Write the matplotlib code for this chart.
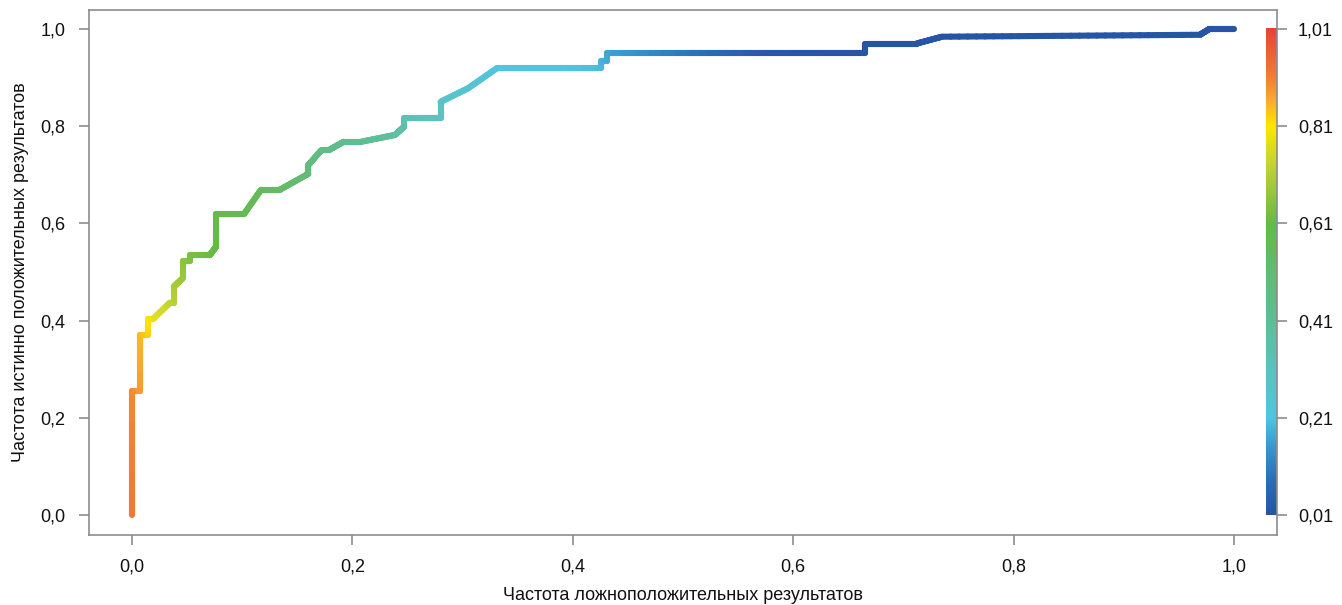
import numpy as np
import matplotlib
matplotlib.use("Agg")
import matplotlib.pyplot as plt
from matplotlib.collections import LineCollection
from matplotlib.colors import LinearSegmentedColormap, Normalize
from matplotlib.ticker import FuncFormatter

plt.rcParams['font.family'] = ['Liberation Sans', 'DejaVu Sans']

# ROC curve vertices (false positive rate, true positive rate) and cutoff at each vertex
fpr = [0.0, 0.0, 0.0073, 0.0073, 0.0148, 0.0148, 0.019, 0.0345, 0.038, 0.038,
       0.046, 0.046, 0.0526, 0.0526, 0.0708, 0.0762, 0.0762, 0.1016, 0.117, 0.134,
       0.160, 0.160, 0.172, 0.179, 0.192, 0.208, 0.2387, 0.247, 0.247, 0.280,
       0.280, 0.305, 0.331, 0.426, 0.426, 0.4307, 0.4307, 0.50, 0.58, 0.665,
       0.665, 0.712, 0.735, 0.969, 0.9777, 1.0]
tpr = [0.0, 0.256, 0.256, 0.370, 0.370, 0.403, 0.403, 0.437, 0.437, 0.470,
       0.487, 0.523, 0.523, 0.535, 0.535, 0.552, 0.619, 0.619, 0.669, 0.669,
       0.702, 0.720, 0.751, 0.751, 0.768, 0.768, 0.782, 0.799, 0.816, 0.816,
       0.850, 0.878, 0.919, 0.919, 0.935, 0.935, 0.950, 0.950, 0.950, 0.950,
       0.970, 0.970, 0.984, 0.988, 1.0, 1.0]
cutoff = [0.92, 0.90, 0.88, 0.85, 0.83, 0.81, 0.79, 0.73, 0.72, 0.70,
          0.68, 0.66, 0.65, 0.64, 0.62, 0.61, 0.60, 0.58, 0.56, 0.54,
          0.50, 0.48, 0.46, 0.45, 0.43, 0.42, 0.38, 0.36, 0.34, 0.31,
          0.29, 0.26, 0.23, 0.20, 0.19, 0.18, 0.17, 0.10, 0.02, 0.01,
          0.01, 0.01, 0.01, 0.01, 0.01, 0.01]

x_ticks = [0.0, 0.2, 0.4, 0.6, 0.8, 1.0]
y_ticks = [0.0, 0.2, 0.4, 0.6, 0.8, 1.0]
cutoff_ticks = [0.01, 0.21, 0.41, 0.61, 0.81, 1.01]
cutoff_range = (0.01, 1.01)

x_label = "Частота ложноположительных результатов"
y_label = "Частота истинно положительных результатов"

# rainbow-like palette for the cutoff scale
cmap = LinearSegmentedColormap.from_list("cutoff", [
    (0.00, "#2655A5"), (0.07, "#2C6EB5"), (0.14, "#3A98CE"), (0.20, "#4EC6E2"),
    (0.30, "#5CC2BE"), (0.40, "#5EBE95"), (0.50, "#63BB72"), (0.60, "#65BA46"),
    (0.67, "#9DC83C"), (0.73, "#C8D72E"), (0.80, "#FFE600"), (0.85, "#F9AE2E"),
    (0.90, "#F07F35"), (1.00, "#E8433A")])
norm = Normalize(*cutoff_range)

fig = plt.figure(figsize=(13.42, 6.05), dpi=100)
ax = fig.add_axes([0.0663, 0.1157, 0.8853, 0.8678])

# split each segment into short pieces so the colour blends smoothly along the line
xs, ys, cs = [], [], []
for i in range(len(fpr) - 1):
    t = np.linspace(0, 1, 30, endpoint=False)
    xs.append(fpr[i] + (fpr[i + 1] - fpr[i]) * t)
    ys.append(tpr[i] + (tpr[i + 1] - tpr[i]) * t)
    cs.append(cutoff[i] + (cutoff[i + 1] - cutoff[i]) * t)
xs.append([fpr[-1]]); ys.append([tpr[-1]]); cs.append([cutoff[-1]])
xs = np.concatenate(xs); ys = np.concatenate(ys); cs = np.concatenate(cs)
pts = np.column_stack([xs, ys]).reshape(-1, 1, 2)
segs = np.concatenate([pts[:-1], pts[1:]], axis=1)
lc = LineCollection(segs, cmap=cmap, norm=norm, linewidths=4.4,
                    capstyle='round', joinstyle='round')
lc.set_array(0.5 * (cs[:-1] + cs[1:]))
ax.add_collection(lc)

ax.set_xlim(-0.039, 1.039)
ax.set_ylim(-0.041, 1.039)

# colour key drawn inside the plotting frame along the right edge
grad = np.linspace(*cutoff_range, 256).reshape(-1, 1)
ax.imshow(grad, cmap=cmap, norm=norm, origin='lower', aspect='auto',
          extent=(1.029, 1.0385, 0.0, 1.0), zorder=1)

comma = FuncFormatter(lambda v, p: f"{v:.1f}".replace('.', ','))
ax.set_xticks(x_ticks)
ax.set_yticks(y_ticks)
ax.xaxis.set_major_formatter(comma)
ax.yaxis.set_major_formatter(comma)

for s in ax.spines.values():
    s.set_color("#8c8c8c")
    s.set_linewidth(1.2)
ax.tick_params(axis='both', colors="#8c8c8c", labelcolor="#111111",
               length=7, width=1.2, labelsize=13, pad=10)

# right axis: cutoff scale
ax2 = ax.twinx()
ax2.set_ylim(ax.get_ylim())
ax2.set_yticks(y_ticks)
ax2.set_yticklabels([f"{c:.2f}".replace('.', ',') for c in cutoff_ticks])
for s in ax2.spines.values():
    s.set_visible(False)
ax2.tick_params(axis='y', colors="#8c8c8c", labelcolor="#111111",
                length=7, width=1.2, labelsize=13, pad=8)

ax.set_xlabel(x_label, fontsize=13, color="#111111", labelpad=8)
ax.set_ylabel(y_label, fontsize=13, color="#111111", labelpad=8)

fig.savefig("out.png", dpi=100)
